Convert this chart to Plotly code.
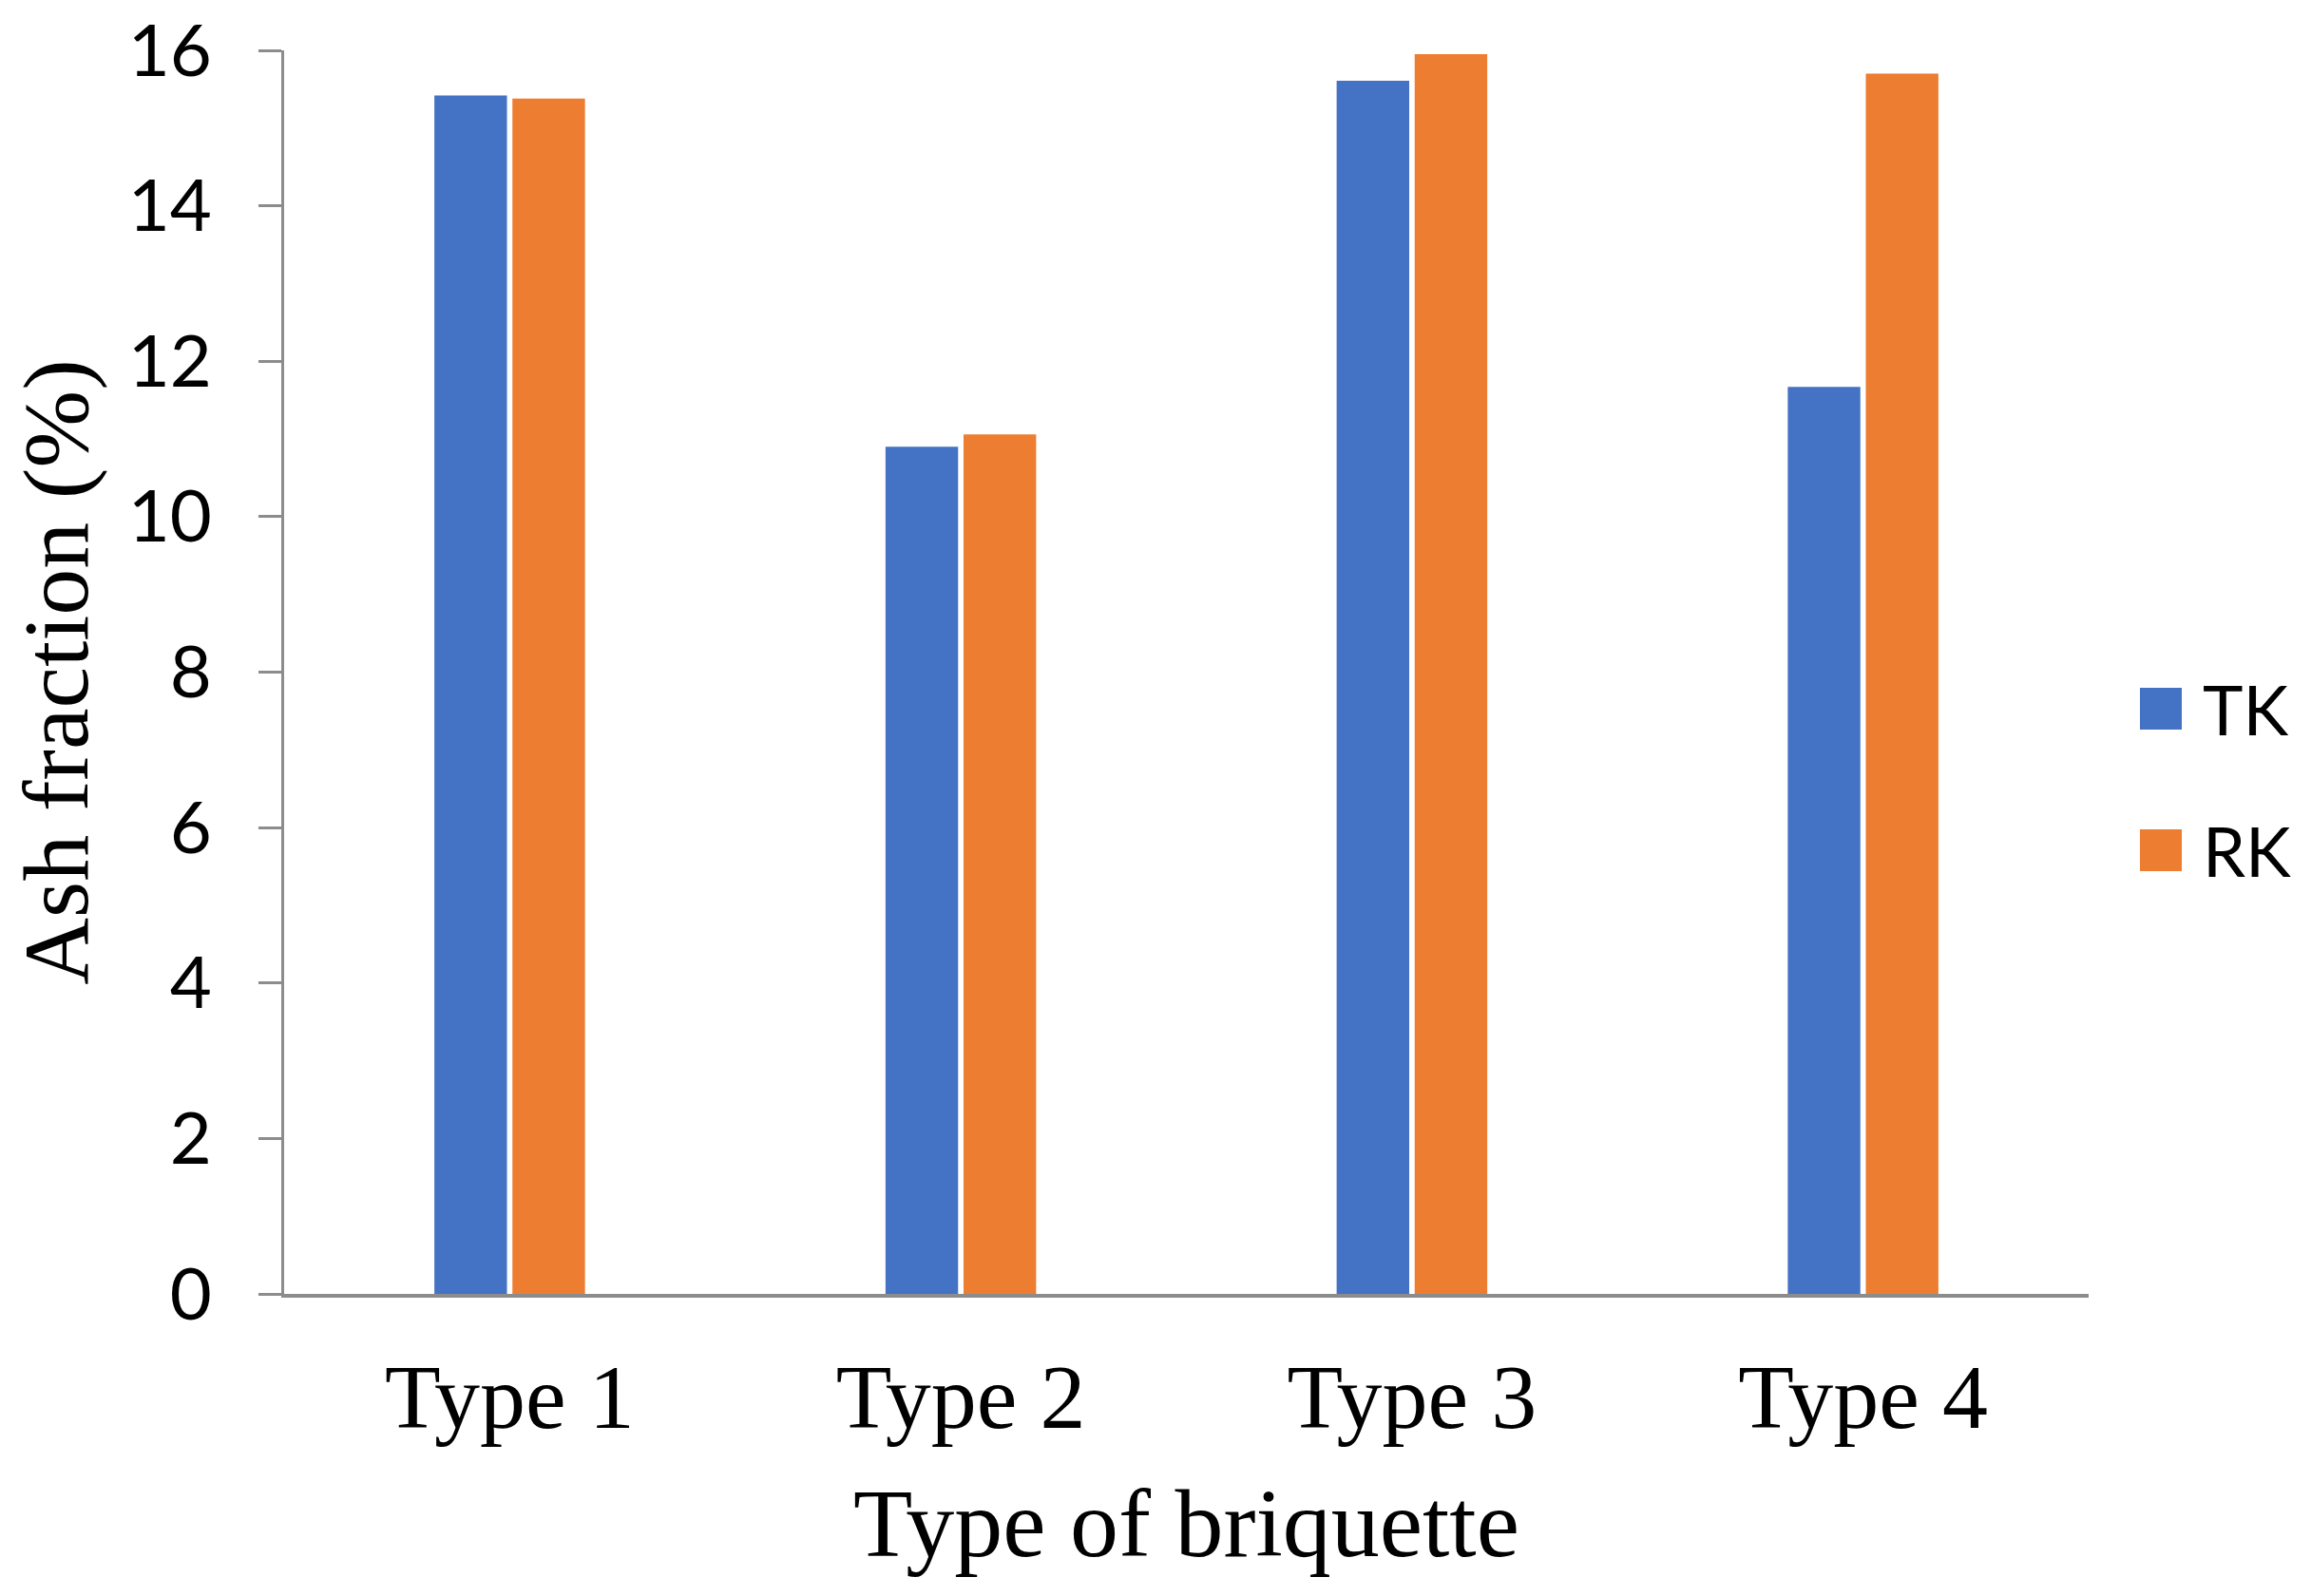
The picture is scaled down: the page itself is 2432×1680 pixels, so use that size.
import plotly.graph_objects as go

categories = ["Type 1", "Type 2", "Type 3", "Type 4"]
tk_values = [15.42, 10.90, 15.61, 11.67]
rk_values = [15.38, 11.06, 15.95, 15.70]
series_names = ["TK", "RK"]
series_colors = ["#4472C4", "#ED7D31"]
y_ticks = [0, 2, 4, 6, 8, 10, 12, 14, 16]

W, H = 2432, 1680
L, R, T, B = 299, 234, 53, 318

fig = go.Figure()
for name, vals, col in zip(series_names, [tk_values, rk_values], series_colors):
    fig.add_trace(go.Bar(x=categories, y=vals, name=name, marker_color=col,
                         marker_line_width=0, showlegend=False))

axis_gray = "#8C8C8C"
fig.update_layout(
    width=W, height=H,
    margin=dict(l=L, r=R, t=T, b=B, autoexpand=False),
    plot_bgcolor="white", paper_bgcolor="white",
    barmode="group", bargap=0.654, bargroupgap=0.07,
    xaxis=dict(
        showline=True, linecolor=axis_gray, linewidth=4,
        ticks="", showgrid=False, zeroline=False,
        tickfont=dict(family="Liberation Serif", size=96, color="black"),
        ticklabelstandoff=22,
        title=dict(text="Type of briquette",
                   font=dict(family="Liberation Serif", size=102, color="black"),
                   standoff=44),
    ),
    yaxis=dict(
        range=[0, 16], tickvals=y_ticks, ticktext=[str(v) for v in y_ticks],
        showline=True, linecolor=axis_gray, linewidth=3,
        ticks="outside", ticklen=24, tickwidth=3, tickcolor=axis_gray,
        showgrid=False, zeroline=False,
        tickfont=dict(family="Lato", size=76, color="black"),
        ticklabelstandoff=34, ticklabeloverflow="allow",
        title=dict(text="Ash fraction (%)",
                   font=dict(family="Liberation Serif", size=98, color="black"),
                   standoff=10),
    ),
)

# manual legend (large square keys)
plot_w = W - L - R
plot_h = H - T - B
key_x0 = (2252 - L) / plot_w
key_x1 = (2296 - L) / plot_w
text_x = (2316 - L) / plot_w
key_half = 22 / plot_h
for i, (name, col) in enumerate(zip(series_names, series_colors)):
    yc = (H - B - (746 + 149 * i)) / plot_h
    fig.add_shape(type="rect", xref="paper", yref="paper",
                  x0=key_x0, x1=key_x1, y0=yc - key_half, y1=yc + key_half,
                  fillcolor=col, line_width=0)
    fig.add_annotation(xref="paper", yref="paper", x=text_x, y=yc,
                       text=name, showarrow=False, xanchor="left", yanchor="middle",
                       font=dict(family="Lato", size=72, color="black"))

fig.write_html("out.html", config={"displayModeBar": False},
               post_script="document.body.style.margin='0';document.body.style.overflow='hidden';")
